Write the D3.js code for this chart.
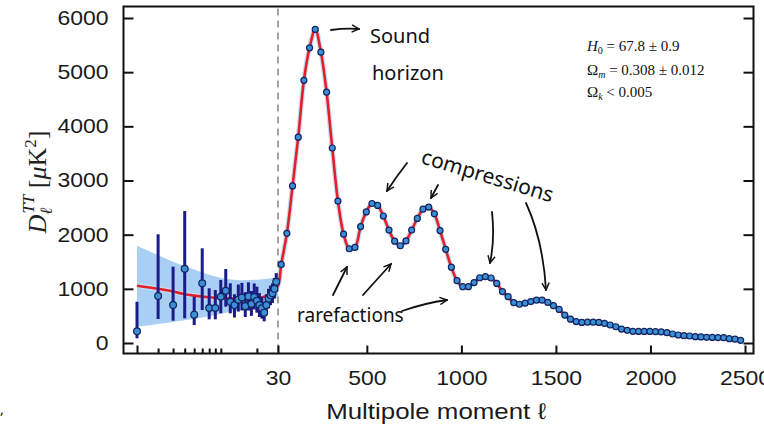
<!DOCTYPE html>
<html>
<head>
<meta charset="utf-8">
<script src="https://cdn.jsdelivr.net/npm/d3@7"></script>
<style>
  body { margin: 0; background: #fff; }
  svg { display: block; }
</style>
</head>
<body>
<div id="chart"></div>
<script>
// low multipoles, one point per l
const lowEll = [2, 3, 4, 5, 6, 7, 8, 9, 10, 11, 12, 13, 14, 15, 16, 17, 18, 19, 20, 21, 22, 23, 24, 25, 26, 27, 28, 29];
const lowD = [216, 867, 701, 1372, 523, 1102, 646, 646, 855, 966, 762, 700, 800, 840, 680, 860, 720, 850, 780, 700, 640, 560, 700, 820, 880, 920, 1000, 1130];
const lowErrLo = [87, 443, 412, 456, 332, 609, 437, 437, 548, 670, 548, 470, 580, 600, 480, 600, 500, 620, 560, 480, 450, 400, 520, 640, 700, 740, 820, 950];
const lowErrHi = [762, 2007, 1409, 2437, 855, 1748, 1010, 978, 1163, 1366, 1102, 900, 1080, 1110, 940, 1120, 960, 1100, 1040, 920, 850, 760, 900, 1000, 1060, 1100, 1200, 1290];

// binned spectrum above l = 30
const highEll = [47, 77, 107, 137, 167, 197, 227, 257, 287, 317, 347, 377, 407, 437, 467, 497, 527, 557, 587, 617,
  647, 677, 707, 737, 767, 797, 827, 857, 887, 917, 947, 977, 1007, 1037, 1067, 1097, 1127, 1157, 1187, 1217,
  1247, 1277, 1307, 1337, 1367, 1397, 1427, 1457, 1487, 1517, 1547, 1577, 1607, 1637, 1667, 1697, 1727, 1757, 1787, 1817,
  1847, 1877, 1907, 1937, 1967, 1997, 2027, 2057, 2087, 2117, 2147, 2177, 2207, 2237, 2267, 2297, 2327, 2357, 2387, 2417,
  2447, 2477];
const highD = [1450, 2025, 2900, 3800, 4850, 5450, 5790, 5370, 4630, 3600, 2620, 2010, 1740, 1765, 2150, 2420, 2575, 2540, 2345, 2085,
  1880, 1795, 1885, 2085, 2300, 2470, 2510, 2385, 2075, 1730, 1400, 1150, 1040, 1040, 1115, 1205, 1225, 1200, 1100, 950,
  855, 745, 715, 735, 765, 790, 790, 750, 690, 620, 515, 440, 395, 380, 385, 385, 380, 362, 332, 300,
  258, 234, 215, 213, 213, 213, 210, 205, 190, 166, 148, 135, 129, 117, 112, 105, 103, 101, 98, 80,
  70, 50];

// best fit below l = 30
const fitEll = [2, 3, 4, 5, 6, 8, 10, 13, 16, 20, 24, 27, 30];
const fitD = [1058, 1000, 950, 900, 875, 845, 830, 822, 822, 830, 870, 950, 1060];

// cosmic variance band
const bandEll = [2, 3, 4, 5, 7, 10, 15, 20, 25, 30];
const bandLo = [300, 350, 390, 420, 470, 540, 620, 690, 760, 850];
const bandHi = [1790, 1620, 1500, 1420, 1300, 1200, 1160, 1170, 1190, 1220];

const yTicks = [0, 1000, 2000, 3000, 4000, 5000, 6000];
const logTicks = [2, 3, 4, 5, 6, 7, 8, 9, 10, 20];
const linTicks = [30, 500, 1000, 1500, 2000, 2500];

const W = 764, H = 434;
const frameL = 123.5, frameR = 753.5, frameT = 6.5, frameB = 353.5;

const svg = d3.select("#chart").append("svg")
  .attr("width", W)
  .attr("height", H)
  .style("font-family", "'Liberation Sans', Arial, sans-serif");

const xLog = d3.scaleLog().domain([2, 30]).range([137, 278]);
const xLin = d3.scaleLinear().domain([30, 2500]).range([278, 745]);
const x = l => (l <= 30 ? xLog(l) : xLin(l));
const y = d3.scaleLinear().domain([0, 6000]).range([343, 18]);

// band
const band = d3.area()
  .x((d, i) => x(bandEll[i]))
  .y0((d, i) => y(bandLo[i]))
  .y1((d, i) => y(bandHi[i]))
  .curve(d3.curveMonotoneX);
svg.append("path")
  .attr("d", band(bandEll))
  .attr("fill", "#a9cff5");

// dashed line at l = 30
svg.append("line")
  .attr("x1", x(30)).attr("x2", x(30))
  .attr("y1", frameT + 2).attr("y2", frameB)
  .attr("stroke", "#9a9a9a")
  .attr("stroke-width", 1.8)
  .attr("stroke-dasharray", "7,5");

// best fit curve
const fitPts = fitEll.map((l, i) => [x(l), y(fitD[i])])
  .concat(highEll.map((l, i) => [x(l), y(highD[i])]));
const line = d3.line().curve(d3.curveCatmullRom.alpha(0.5));
svg.append("path")
  .attr("d", line(fitPts))
  .attr("fill", "none")
  .attr("stroke", "#c5dcf3")
  .attr("stroke-width", 5);
svg.append("path")
  .attr("d", line(fitPts))
  .attr("fill", "none")
  .attr("stroke", "#e3202a")
  .attr("stroke-width", 2.6);

// error bars
svg.selectAll(".err")
  .data(lowEll)
  .enter()
  .append("line")
  .attr("class", "err")
  .attr("x1", d => x(d)).attr("x2", d => x(d))
  .attr("y1", (d, i) => y(lowErrLo[i]))
  .attr("y2", (d, i) => y(lowErrHi[i]))
  .attr("stroke", "#1b1b8a")
  .attr("stroke-width", 3);

svg.selectAll(".lowpt")
  .data(lowEll)
  .enter()
  .append("circle")
  .attr("class", "lowpt")
  .attr("cx", d => x(d))
  .attr("cy", (d, i) => y(lowD[i]))
  .attr("r", 3.4)
  .attr("fill", "#3a8fd6")
  .attr("stroke", "#13235e")
  .attr("stroke-width", 1.2);

svg.selectAll(".highpt")
  .data(highEll)
  .enter()
  .append("circle")
  .attr("class", "highpt")
  .attr("cx", d => x(d))
  .attr("cy", (d, i) => y(highD[i]))
  .attr("r", 3)
  .attr("fill", "#3a8fd6")
  .attr("stroke", "#13235e")
  .attr("stroke-width", 1.2);

// frame
svg.append("rect")
  .attr("x", frameL).attr("y", frameT)
  .attr("width", frameR - frameL).attr("height", frameB - frameT)
  .attr("fill", "none")
  .attr("stroke", "#111")
  .attr("stroke-width", 2);

// axes
const yAxis = svg.append("g")
  .attr("transform", `translate(${frameL},0)`)
  .call(d3.axisLeft(y).tickValues(yTicks).tickSizeInner(-10).tickSizeOuter(0).tickPadding(13).tickFormat(d3.format("d")));
const yAxisR = svg.append("g")
  .attr("transform", `translate(${frameR},0)`)
  .call(d3.axisRight(y).tickValues(yTicks).tickSizeInner(-10).tickSizeOuter(0).tickFormat(""));
const xAxisLog = svg.append("g")
  .attr("transform", `translate(0,${frameB})`)
  .call(d3.axisBottom(xLog).tickValues(logTicks).tickSizeInner(-5).tickSizeOuter(0).tickFormat(""));
const xAxisLin = svg.append("g")
  .attr("transform", `translate(0,${frameB})`)
  .call(d3.axisBottom(xLin).tickValues(linTicks).tickSizeInner(-8).tickSizeOuter(0).tickPadding(17).tickFormat(d3.format("d")));

xAxisLog.selectAll(".tick line").filter(d => d === 2).attr("y2", -8);

[yAxis, yAxisR, xAxisLog, xAxisLin].forEach(a => {
  a.select(".domain").remove();
  a.selectAll(".tick line").attr("stroke", "#111").attr("stroke-width", 2);
  a.selectAll(".tick text")
    .attr("fill", "#1a1a1a")
    .style("font-size", "20px")
    .style("font-family", "'Liberation Sans', Arial, sans-serif")
    .attr("transform", "scale(1.15,1)");
});

// axis titles
svg.append("text")
  .attr("transform", "translate(436,419) scale(1.15,1)")
  .attr("text-anchor", "middle")
  .attr("fill", "#1a1a1a")
  .style("font-size", "22.5px")
  .text("Multipole moment ℓ");

const yl = svg.append("text")
  .attr("transform", "translate(46,182) rotate(-90)")
  .attr("text-anchor", "middle")
  .attr("fill", "#222")
  .style("font-family", "'Liberation Serif', 'Times New Roman', serif")
  .style("font-size", "26px");
yl.append("tspan").style("font-style", "italic").text("D");
yl.append("tspan").attr("dy", 6).style("font-size", "17px").style("font-style", "italic").text("ℓ");
yl.append("tspan").attr("dx", -6).attr("dy", -18).style("font-size", "17px").style("font-style", "italic").text("TT");
yl.append("tspan").attr("dy", 12).text(" [");
yl.append("tspan").style("font-style", "italic").text("μ");
yl.append("tspan").text("K");
yl.append("tspan").attr("dy", -10).style("font-size", "17px").text("2");
yl.append("tspan").attr("dy", 10).text("]");

// parameters
const params = svg.append("g")
  .style("font-family", "'Liberation Serif', 'Times New Roman', serif")
  .style("font-size", "15px")
  .attr("fill", "#111");
const p1 = params.append("text").attr("x", 587).attr("y", 51);
p1.append("tspan").style("font-style", "italic").text("H");
p1.append("tspan").attr("dy", 3).style("font-size", "10px").text("0");
p1.append("tspan").attr("dy", -3).text(" = 67.8 ± 0.9");
const p2 = params.append("text").attr("x", 587).attr("y", 75);
p2.append("tspan").text("Ω");
p2.append("tspan").attr("dy", 3).style("font-size", "10px").style("font-style", "italic").text("m");
p2.append("tspan").attr("dy", -3).text(" = 0.308 ± 0.012");
const p3 = params.append("text").attr("x", 587).attr("y", 97);
p3.append("tspan").text("Ω");
p3.append("tspan").attr("dy", 3).style("font-size", "10px").style("font-style", "italic").text("k");
p3.append("tspan").attr("dy", -3).text(" < 0.005");

// annotations
svg.append("defs").append("marker")
  .attr("id", "arrow")
  .attr("viewBox", "0 0 10 10")
  .attr("refX", 9).attr("refY", 5)
  .attr("markerWidth", 5).attr("markerHeight", 5)
  .attr("orient", "auto")
  .append("path")
  .attr("d", "M1,1 L9,5 L1,9")
  .attr("fill", "none")
  .attr("stroke", "#111")
  .attr("stroke-width", 1.6);

const arrows = [
  "M331,30 Q345,28 359,29",
  "M407,163 Q396,177 387,191",
  "M438,185 L431,198",
  "M492,212 Q495,240 490,263",
  "M526,203 Q543,240 546,290",
  "M333,295 L347,267",
  "M363,295 L391,264",
  "M402,311 Q425,303 447,300"
];
svg.selectAll(".arrow")
  .data(arrows)
  .enter()
  .append("path")
  .attr("class", "arrow")
  .attr("d", d => d)
  .attr("fill", "none")
  .attr("stroke", "#111")
  .attr("stroke-width", 1.8)
  .attr("stroke-linecap", "round")
  .attr("marker-end", "url(#arrow)");

const note = svg.append("g")
  .style("font-family", "'Noto Sans', sans-serif")
  .attr("fill", "#111");
note.append("text").attr("x", 370).attr("y", 43).style("font-size", "20px").text("Sound");
note.append("text").attr("x", 372).attr("y", 80).style("font-size", "20px").text("horizon");
note.append("text")
  .attr("transform", "translate(420,163) rotate(16.7)")
  .style("font-size", "21px")
  .text("compressions");
note.append("text").attr("x", 297).attr("y", 322).style("font-size", "19px").text("rarefactions");
note.append("text").attr("x", 0).attr("y", 414).style("font-size", "14px").text(",");
</script>
</body>
</html>
